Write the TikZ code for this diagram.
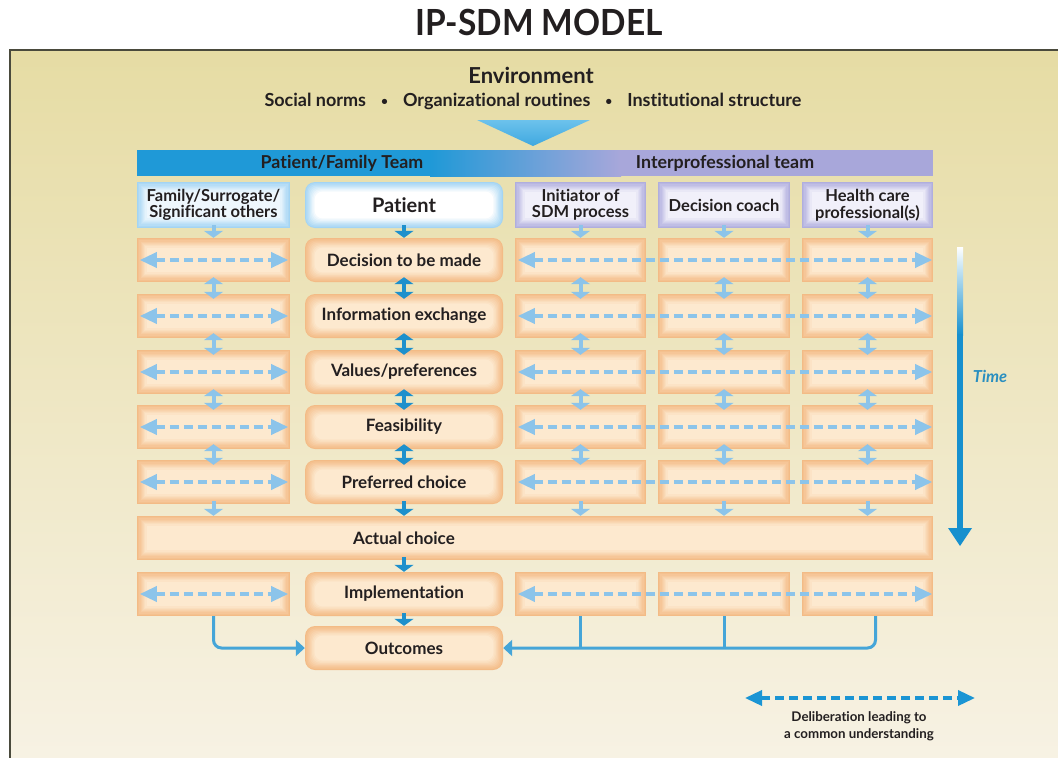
\documentclass[tikz,border=0pt]{standalone}
\usepackage{fontspec}
\setmainfont{Lato}[Ligatures={NoCommon}]
\usetikzlibrary{arrows.meta}
\definecolor{bgtop}{HTML}{E6DCA4}
\definecolor{bgbot}{HTML}{F7F2E4}
\definecolor{panelline}{HTML}{4A4A3C}
\definecolor{oredge}{HTML}{F3BB86}
\definecolor{orcenter}{HTML}{FDE9CF}
\definecolor{blueedge}{HTML}{A3D4F3}
\definecolor{bluecenter}{HTML}{EEF7FD}
\definecolor{lavedge}{HTML}{B0AEDE}
\definecolor{lavcenter}{HTML}{F1F0FA}
\definecolor{darkarrow}{HTML}{1E90CC}
\definecolor{lightarrow}{HTML}{8CC4EA}
\definecolor{barblue}{HTML}{1F99D7}
\definecolor{barlav}{HTML}{A8A7DA}
\definecolor{linkblue}{HTML}{45A5D8}
\definecolor{timeblue}{HTML}{1790CE}
\definecolor{tritop}{HTML}{6CC2EC}
\definecolor{tribot}{HTML}{3FA8E0}
\definecolor{legblue}{HTML}{1B95D4}
\definecolor{txt}{HTML}{231F20}
\definecolor{timetxt}{HTML}{2A8FC0}
\newcommand{\smbullet}{\hspace{15pt}\raisebox{1pt}{\fontsize{12}{12}\selectfont\textbullet}\hspace{15pt}}
\tikzset{
  vtip/.tip={Triangle[width=19pt,length=7pt]},
  htip/.tip={Triangle[width=15pt,length=17pt]},
  otip/.tip={Triangle[width=16pt,length=9pt]},
  glowsq/.style n args={2}{fill=#1, path picture={%
    \foreach \i in {1,...,8}{%
      \pgfmathtruncatemacro\pct{\i*12.5}%
      \pgfmathsetmacro\dd{1.2*\i}%
      \fill[#2!\pct!#1] ([xshift=\dd pt,yshift=-\dd pt]path picture bounding box.north west) rectangle ([xshift=-\dd pt,yshift=\dd pt]path picture bounding box.south east);
    }}},
  glowrd/.style n args={2}{fill=#1, rounded corners=10pt, path picture={%
    \foreach \i in {1,...,8}{%
      \pgfmathtruncatemacro\pct{\i*12.5}%
      \pgfmathsetmacro\dd{1.2*\i}%
      \fill[#2!\pct!#1, rounded corners=8pt] ([xshift=\dd pt,yshift=-\dd pt]path picture bounding box.north west) rectangle ([xshift=-\dd pt,yshift=\dd pt]path picture bounding box.south east);
    }}},
  hdr/.style={minimum height=46pt, inner sep=0pt, align=center, text=txt,
    font=\bfseries\fontsize{16.5}{16.5}\selectfont},
  sidebox/.style={glowsq={oredge}{orcenter}, minimum height=44pt, inner sep=0pt},
  midbox/.style={glowrd={oredge}{orcenter}, minimum height=44pt, minimum width=198pt,
    inner sep=0pt, text=txt, font=\bfseries\fontsize{17}{17}\selectfont},
  rowtext/.style={text=txt, font=\bfseries\fontsize{17}{17}\selectfont, inner sep=0pt},
  bartext/.style={text=txt, font=\bfseries\fontsize{17.8}{18}\selectfont, inner sep=0pt},
  darkone/.style={draw=darkarrow, line width=4.5pt, -{vtip}, shorten <=-3pt},
  darktwo/.style={draw=darkarrow, line width=4.5pt, {vtip}-{vtip}, shorten <=-5pt, shorten >=-5pt},
  lightone/.style={draw=lightarrow, line width=4pt, -{vtip}, shorten <=-3pt},
  lighttwo/.style={draw=lightarrow, line width=4pt, {vtip}-{vtip}, shorten <=-5pt, shorten >=-5pt},
  delib/.style={draw=lightarrow, line width=3.5pt, dash pattern=on 9pt off 5pt, {htip}-{htip}},
  link/.style={draw=linkblue, line width=3pt},
}
\begin{document}
\begin{tikzpicture}[x=1pt,y=-1pt]
\useasboundingbox (0,0) rectangle (1058,758);
% panel
\shade[top color=bgtop, bottom color=bgbot] (10,50) rectangle (1062,762);
\draw[line width=1.6pt, panelline] (10,762) -- (10,50) -- (1062,50);
% title and environment
\node[text=txt, font=\bfseries\fontsize{36}{38}\selectfont, xscale=0.93] (title) at (539,22) {IP-SDM MODEL};
\node[text=txt, font=\bfseries\fontsize{22}{24}\selectfont] (env) at (531,75) {Environment};
\node[text=txt, font=\bfseries\fontsize{18}{20}\selectfont] (norms) at (533,101)
  {Social norms\smbullet Organizational routines\smbullet Institutional structure};
\shade[top color=tritop, bottom color=tribot] (477,120) -- (590,120) -- (533,146) -- cycle;
% team bar
\fill[barblue] (137,150) rectangle (431,176);
\shade[left color=barblue, right color=barlav] (430,150) rectangle (621,176);
\fill[barlav] (620,150) rectangle (933,176);
\node[bartext] (pft) at (342,163) {Patient/Family Team};
\node[bartext] (ipt) at (725,163) {Interprofessional team};
% header boxes
\node[hdr, glowsq={blueedge}{bluecenter}, minimum width=153pt] (fam) at (213.5,205) {Family/Surrogate/\\Significant others};
\node[hdr, glowrd={blueedge}{white}, minimum width=198pt, font=\bfseries\fontsize{20}{20}\selectfont] (pat) at (404,205) {Patient};
\node[hdr, glowsq={lavedge}{lavcenter}, minimum width=131pt] (ini) at (580.5,205) {Initiator of\\SDM process};
\node[hdr, glowsq={lavedge}{lavcenter}, minimum width=132pt] (coach) at (724,205) {Decision coach};
\node[hdr, glowsq={lavedge}{lavcenter}, minimum width=131pt] (hcp) at (867.5,205) {Health care\\professional(s)};
% rows
\foreach \n/\y/\t in {1/260/{Decision to be made}, 2/316/{Information exchange}, 3/372/{Values/preferences}, 4/427/{Feasibility}, 5/482/{Preferred choice}, 6/594/{Implementation}}{
  \node[sidebox, minimum width=153pt] (L\n) at (213.5,\y) {};
  \node[midbox] (M\n) at (404,\y) {\t};
  \node[sidebox, minimum width=131pt] (I\n) at (580.5,\y) {};
  \node[sidebox, minimum width=132pt] (C\n) at (724,\y) {};
  \node[sidebox, minimum width=131pt] (H\n) at (867.5,\y) {};
}
\node[sidebox, minimum width=796pt] (act) at (535,538) {};
\node[rowtext] (acttext) at (404,538) {Actual choice};
\node[midbox] (out) at (404,648) {Outcomes};
% middle column arrows
\draw[darkone] (pat.south) -- (M1.north);
\foreach \a/\b in {1/2,2/3,3/4,4/5}{
  \draw[darktwo] (M\a.south) -- (M\b.north);
}
\draw[darkone] (M5.south) -- (M5.south |- act.north);
\draw[darkone] (M5.south |- act.south) -- (M6.north);
\draw[darkone] (M6.south) -- (out.north);
% side column arrows
\draw[lightone] (fam.south) -- (L1.north);
\draw[lightone] (ini.south) -- (I1.north);
\draw[lightone] (coach.south) -- (C1.north);
\draw[lightone] (hcp.south) -- (H1.north);
\foreach \c in {L,I,C,H}{
  \foreach \a/\b in {1/2,2/3,3/4,4/5}{
    \draw[lighttwo] (\c\a.south) -- (\c\b.north);
  }
  \draw[lightone] (\c5.south) -- (\c5.south |- act.north);
}
% deliberation arrows
\foreach \n in {1,2,3,4,5,6}{
  \draw[delib] ([xshift=3pt]L\n.west) -- ([xshift=-2pt]L\n.east);
  \draw[delib] ([xshift=3pt]I\n.west) -- ([xshift=-1pt]H\n.east);
}
% outcome links
\draw[link, rounded corners=8pt, -{otip}] (L6.south) |- (out.west);
\draw[link, rounded corners=8pt, -{otip}] ([xshift=8pt]H6.south) |- (out.east);
\draw[link] (I6.south) -- (I6.south |- out.east);
\draw[link] (C6.south) -- (C6.south |- out.east);
% time arrow
\shade[top color=white, bottom color=timeblue] (957,247) rectangle (963,335);
\fill[timeblue] (957,334) rectangle (963,530);
\fill[timeblue] (948,528) -- (972,528) -- (960,546) -- cycle;
\node[text=timetxt, font=\bfseries\itshape\fontsize{16.5}{18}\selectfont] (time) at (990,376) {Time};
% legend
\coordinate (lgA) at (745,698);
\coordinate (lgB) at (975,698);
\draw[delib, draw=legblue] (lgA) -- (lgB);
\node[text=txt, align=center, font=\bfseries\fontsize{13.3}{17}\selectfont] (lgtext) at (859,726) {Deliberation leading to\\a common understanding};
\end{tikzpicture}
\end{document}
